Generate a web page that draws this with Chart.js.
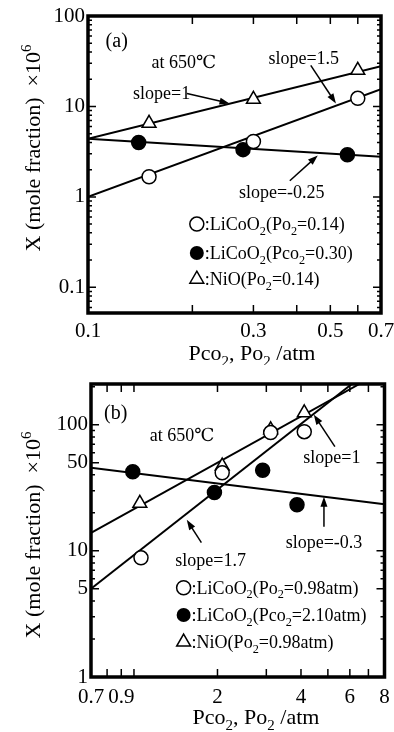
<!DOCTYPE html>
<html lang="en">

<head>
    <meta charset="UTF-8" />
    <title>LiCoO2 / NiO solubility at 650C</title>
    <script src="https://cdn.jsdelivr.net/npm/chart.js@4.4.0/dist/chart.umd.min.js"></script>
    <style type="text/css">
        body {
            margin: 0;
            background: #fff;
        }

        .chartBox {
            position: absolute;
            left: 0;
            width: 394px;
        }
    </style>
</head>

<body>
    <div class="chartBox" style="top:0px"><canvas id="chartA" width="394" height="365"></canvas></div>
    <div class="chartBox" style="top:365px"><canvas id="chartB" width="394" height="367"></canvas></div>

    <script>
        // ---- panel (a): data ----
        const openA_x = [0.15, 0.3, 0.6];        // LiCoO2, Po2 = 0.14
        const openA_y = [1.67, 4.1, 12.3];
        const fillA_x = [0.14, 0.28, 0.56];      // LiCoO2, Pco2 = 0.30
        const fillA_y = [4.0, 3.33, 2.93];
        const triA_x = [0.15, 0.3, 0.6];         // NiO, Po2 = 0.14
        const triA_y = [6.5, 12.0, 25.1];
        // fitted lines (end points)
        const lineA_x = [0.1, 0.7];
        const slope1A_y = [4.4, 27.8];
        const slope15A_y = [1.0, 15.5];
        const slopeM025A_y = [4.4, 2.78];

        const xTicksA = [0.2, 0.3, 0.4, 0.5, 0.6];
        const xLabelsA = [0.1, 0.3, 0.5, 0.7];
        const yLabelsA = [0.1, 1, 10, 100];

        // ---- panel (b) ----
        const openB_x = [1.06, 2.08, 3.11, 4.11];   // LiCoO2, Po2 = 0.98 atm
        const openB_y = [8.8, 41.5, 86.5, 88];
        const fillB_x = [0.99, 1.95, 2.91, 3.87];   // LiCoO2, Pco2 = 2.10 atm
        const fillB_y = [42.4, 29.0, 43.5, 23.2];
        const triB_x = [1.05, 2.08, 3.11, 4.11];    // NiO, Po2 = 0.98 atm
        const triB_y = [23.8, 47, 91, 124];
        const slope1B_x = [0.7, 6.5];
        const slope1B_y = [13.9, 210];
        const slope17B_x = [0.7, 6.1];
        const slope17B_y = [5.0, 210];
        const slopeM03B_x = [0.7, 8];
        const slopeM03B_y = [45.6, 23.4];

        const xTicksB = [0.8, 0.9, 1, 2, 3, 4, 5, 6, 7];
        const xLabelsB = [0.7, 0.9, 2, 4, 6, 8];
        const yLabelsB = [1, 5, 10, 50, 100];

        const SERIF = "'Liberation Serif', 'DejaVu Serif', 'Noto Sans CJK JP', serif";

        function pts(xs, ys) {
            return xs.map((x, i) => ({ x: x, y: ys[i] }));
        }

        // minor ticks 2..9 in each decade between lo and hi
        function minors(lo, hi) {
            const out = [];
            for (let d = Math.floor(Math.log10(lo)); d <= Math.ceil(Math.log10(hi)); d++) {
                for (let m = 1; m <= 9; m++) {
                    const v = +(m * Math.pow(10, d)).toPrecision(3);
                    if (v >= lo && v <= hi) out.push(v);
                }
            }
            return out;
        }

        // text with _x (subscript) and ^x (superscript) markers
        function parseRich(s) {
            const parts = [];
            for (let i = 0; i < s.length; i++) {
                if ((s[i] === '_' || s[i] === '^') && i + 1 < s.length) {
                    parts.push([s[i + 1], s[i] === '_' ? 'sub' : 'sup']);
                    i++;
                } else {
                    if (parts.length && parts[parts.length - 1][1] === '') parts[parts.length - 1][0] += s[i];
                    else parts.push([s[i], '']);
                }
            }
            return parts;
        }

        function richText(ctx, s, x, y, size, align) {
            const parts = parseRich(s);
            let w = 0;
            parts.forEach(p => {
                ctx.font = (p[1] ? size * 0.68 : size) + 'px ' + SERIF;
                p.push(ctx.measureText(p[0]).width);
                w += p[2];
            });
            let cx = align === 'center' ? x - w / 2 : x;
            const base = y + size * 0.34;
            ctx.textBaseline = 'alphabetic';
            ctx.textAlign = 'left';
            parts.forEach(p => {
                ctx.font = (p[1] ? size * 0.68 : size) + 'px ' + SERIF;
                let dy = 0;
                if (p[1] === 'sub') dy = size * 0.25;
                if (p[1] === 'sup') dy = -size * 0.42;
                ctx.fillText(p[0], cx, base + dy);
                cx += p[2];
            });
        }

        function arrow(ctx, x1, y1, x2, y2) {
            const ang = Math.atan2(y2 - y1, x2 - x1);
            const hl = 10, hw = 3.5;
            ctx.beginPath();
            ctx.moveTo(x1, y1);
            ctx.lineTo(x2 - Math.cos(ang) * hl * 0.8, y2 - Math.sin(ang) * hl * 0.8);
            ctx.stroke();
            ctx.beginPath();
            ctx.moveTo(x2, y2);
            ctx.lineTo(x2 - Math.cos(ang) * hl - Math.sin(ang) * hw, y2 - Math.sin(ang) * hl + Math.cos(ang) * hw);
            ctx.lineTo(x2 - Math.cos(ang) * hl + Math.sin(ang) * hw, y2 - Math.sin(ang) * hl - Math.cos(ang) * hw);
            ctx.closePath();
            ctx.fill();
        }

        function symbol(ctx, kind, x, y) {
            ctx.lineWidth = 1.5;
            ctx.beginPath();
            if (kind === 'tri') {
                const r = 8;
                ctx.moveTo(x, y - r);
                ctx.lineTo(x + r * 0.866, y + r * 0.5);
                ctx.lineTo(x - r * 0.866, y + r * 0.5);
                ctx.closePath();
                ctx.stroke();
            } else {
                ctx.arc(x, y, 7, 0, Math.PI * 2);
                if (kind === 'fill') ctx.fill();
                else ctx.stroke();
            }
        }

        // frame, inward ticks, annotations, legend, axis titles
        const decorPlugin = {
            id: 'decor',
            afterDatasetsDraw(chart, args, o) {
                const ctx = chart.ctx;
                const a = chart.chartArea;
                const sx = chart.scales.x, sy = chart.scales.y;
                const X = v => sx.getPixelForValue(v);
                const Y = v => sy.getPixelForValue(v);
                ctx.save();
                ctx.strokeStyle = '#000';
                ctx.fillStyle = '#000';

                ctx.lineWidth = 1.5;
                ctx.beginPath();
                o.xTicks.forEach(v => {
                    const p = X(v);
                    ctx.moveTo(p, a.bottom); ctx.lineTo(p, a.bottom - 8);
                    ctx.moveTo(p, a.top); ctx.lineTo(p, a.top + 8);
                });
                o.yTicks.forEach(v => {
                    const p = Y(v);
                    if (p < a.top + 1 || p > a.bottom - 1) return;
                    const len = o.yLong.includes(v) ? 8 : 4;
                    ctx.moveTo(a.left, p); ctx.lineTo(a.left + len, p);
                    ctx.moveTo(a.right, p); ctx.lineTo(a.right - len, p);
                });
                ctx.stroke();

                ctx.lineWidth = 3.5;
                ctx.strokeRect(a.left, a.top, a.width, a.height);

                ctx.lineWidth = 1.5;
                o.arrows.forEach(r => arrow(ctx, X(r[0]), Y(r[1]), X(r[2]), Y(r[3])));
                o.texts.forEach(t => richText(ctx, t[2], X(t[0]), Y(t[1]), t[3] || 18, 'center'));

                o.legend.forEach(l => {
                    const px = X(l[0]), py = Y(l[1]);
                    symbol(ctx, l[2], px, py);
                    richText(ctx, l[3], px + 8, py, 18, 'left');
                });

                // axis titles
                richText(ctx, 'Pco_2, Po_2 /atm', o.xTitle[0], o.xTitle[1], 22, 'center');
                ctx.save();
                ctx.translate(o.yTitle[0], o.yTitle[1]);
                ctx.rotate(-Math.PI / 2);
                richText(ctx, 'X (mole fraction)  \u00d710^6', 0, 0, 22, 'center');
                ctx.restore();
                ctx.restore();
            }
        };

        function lineSet(xs, ys) {
            return {
                data: pts(xs, ys), showLine: true, pointRadius: 0,
                borderColor: '#000', borderWidth: 2, order: 2
            };
        }

        function markSet(xs, ys, style, fill) {
            return {
                data: pts(xs, ys), showLine: false,
                pointStyle: style, pointRadius: style === 'triangle' ? 8 : 7,
                pointBorderWidth: 1.5, pointBorderColor: '#000',
                pointBackgroundColor: fill ? '#000' : '#fff', order: 1
            };
        }

        function makeChart(id, cfg) {
            const ctx = document.getElementById(id).getContext('2d');
            return new Chart(ctx, {
                type: 'scatter',
                data: { datasets: cfg.datasets },
                options: {
                    responsive: false,
                    animation: false,
                    layout: { padding: cfg.padding },
                    plugins: {
                        legend: { display: false },
                        tooltip: { enabled: false },
                        decor: cfg.decor
                    },
                    scales: {
                        x: {
                            type: 'logarithmic', min: cfg.xMin, max: cfg.xMax,
                            grid: { display: false, drawTicks: false },
                            border: { display: false },
                            afterBuildTicks: s => { s.ticks = cfg.xLabels.map(v => ({ value: v })); },
                            afterFit: s => { s.height = cfg.xHeight; s.paddingLeft = 0; s.paddingRight = 0; },
                            ticks: {
                                autoSkip: false, maxRotation: 0, padding: cfg.xPad, color: '#000',
                                font: { family: SERIF, size: 21 },
                                callback: v => String(v)
                            }
                        },
                        y: {
                            type: 'logarithmic', min: cfg.yMin, max: cfg.yMax,
                            grid: { display: false, drawTicks: false },
                            border: { display: false },
                            afterBuildTicks: s => { s.ticks = cfg.yLabels.map(v => ({ value: v })); },
                            afterFit: s => { s.width = cfg.yWidth; s.paddingTop = 0; s.paddingBottom = 0; },
                            ticks: {
                                autoSkip: false, padding: 3, color: '#000',
                                font: { family: SERIF, size: 21 },
                                callback: v => String(v)
                            }
                        }
                    }
                },
                plugins: [decorPlugin]
            });
        }

        makeChart('chartA', {
            padding: { left: 0, top: 16, right: 13, bottom: 0 },
            xMin: 0.1, xMax: 0.7, yMin: 0.052, yMax: 100,
            xLabels: xLabelsA, yLabels: yLabelsA,
            xHeight: 52, yWidth: 88, xPad: 6,
            datasets: [
                lineSet(lineA_x, slope1A_y),
                lineSet(lineA_x, slope15A_y),
                lineSet(lineA_x, slopeM025A_y),
                markSet(openA_x, openA_y, 'circle', false),
                markSet(fillA_x, fillA_y, 'circle', true),
                markSet(triA_x, triA_y, 'triangle', false)
            ],
            decor: {
                xTicks: xTicksA,
                yTicks: minors(0.052, 100),
                yLong: yLabelsA,
                texts: [
                    [0.121, 54, '(a)', 20],
                    [0.189, 30.8, 'at 650\u2103'],
                    [0.419, 34.1, 'slope=1.5'],
                    [0.163, 14.3, 'slope=1'],
                    [0.362, 1.14, 'slope=-0.25']
                ],
                arrows: [
                    [0.193, 13.9, 0.256, 10.8],
                    [0.439, 28.5, 0.519, 10.8],
                    [0.382, 1.51, 0.460, 2.87]
                ],
                legend: [
                    [0.206, 0.50, 'open', ':LiCoO_2(Po_2=0.14)'],
                    [0.206, 0.24, 'fill', ':LiCoO_2(Pco_2=0.30)'],
                    [0.206, 0.123, 'tri', ':NiO(Po_2=0.14)']
                ],
                xTitle: [252, 353],
                yTitle: [33, 148]
            }
        });

        makeChart('chartB', {
            padding: { left: 0, top: 19, right: 7, bottom: 0 },
            xMin: 0.7, xMax: 8, yMin: 1, yMax: 210,
            xLabels: xLabelsB, yLabels: yLabelsB,
            xHeight: 55, yWidth: 91, xPad: 8,
            datasets: [
                lineSet(slope1B_x, slope1B_y),
                lineSet(slope17B_x, slope17B_y),
                lineSet(slopeM03B_x, slopeM03B_y),
                markSet(openB_x, openB_y, 'circle', false),
                markSet(fillB_x, fillB_y, 'circle', true),
                markSet(triB_x, triB_y, 'triangle', false)
            ],
            decor: {
                xTicks: xTicksB,
                yTicks: minors(1, 210),
                yLong: yLabelsB,
                texts: [
                    [0.859, 124.5, '(b)', 20],
                    [1.49, 83.3, 'at 650\u2103'],
                    [5.17, 55.7, 'slope=1'],
                    [4.84, 11.8, 'slope=-0.3'],
                    [1.89, 8.5, 'slope=1.7']
                ],
                arrows: [
                    [5.30, 66.9, 4.45, 120],
                    [4.84, 15.5, 4.84, 26.8],
                    [1.75, 11.6, 1.55, 17.6]
                ],
                legend: [
                    [1.51, 5.1, 'open', ':LiCoO_2(Po_2=0.98atm)'],
                    [1.51, 3.1, 'fill', ':LiCoO_2(Pco_2=2.10atm)'],
                    [1.51, 1.89, 'tri', ':NiO(Po_2=0.98atm)']
                ],
                xTitle: [256, 352],
                yTitle: [33, 170]
            }
        });
    </script>
</body>

</html>
